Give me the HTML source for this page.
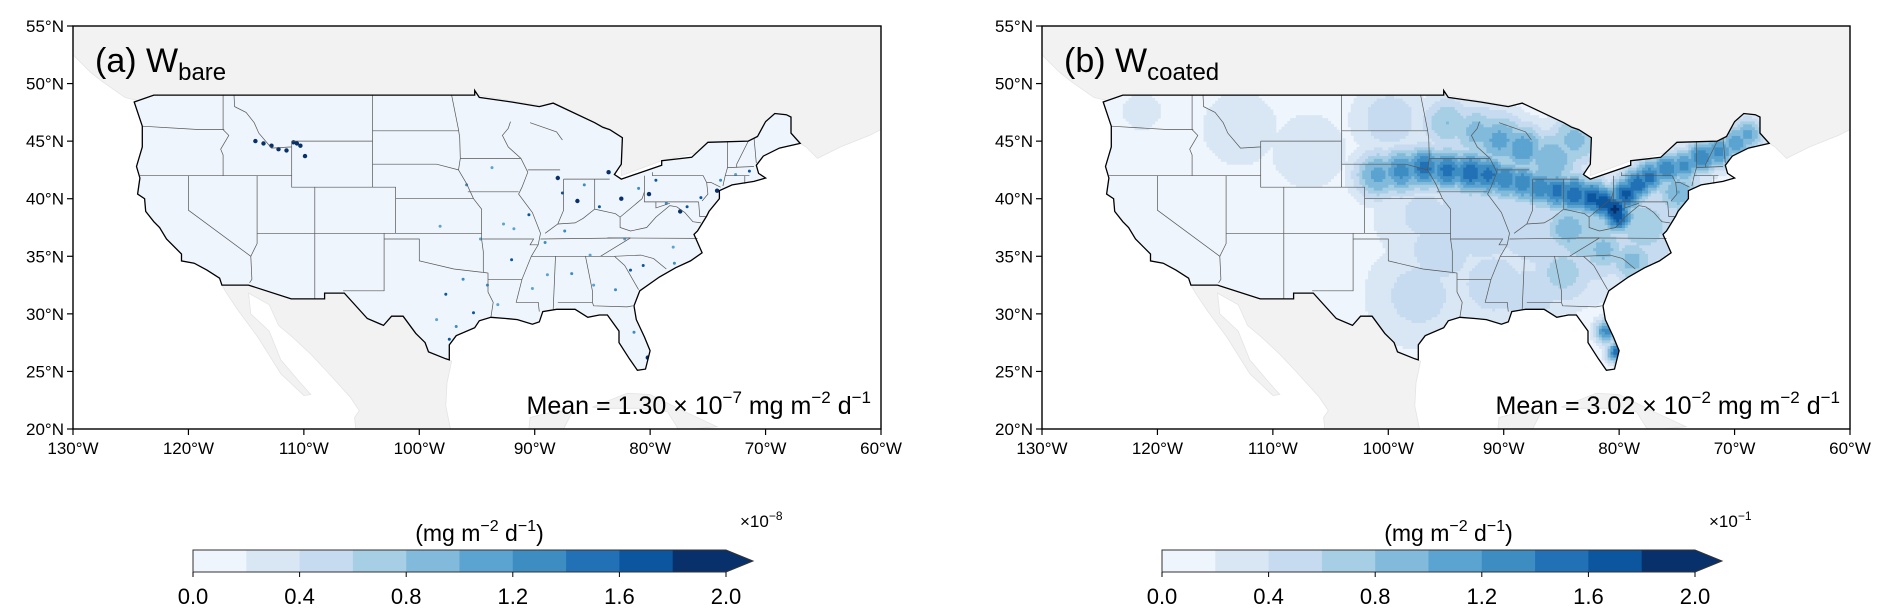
<!DOCTYPE html>
<html>
<head>
<meta charset="utf-8">
<style>
html,body{margin:0;padding:0;background:#fff;}
svg{display:block;font-family:"Liberation Sans",Arial,sans-serif;}
</style>
</head>
<body>
<svg id="fig" width="1892" height="610" viewBox="0 0 1892 610" xmlns="http://www.w3.org/2000/svg"></svg>
<script>
// ---------------- data ----------------
const lonTicks = [-130,-120,-110,-100,-90,-80,-70,-60];
const lonTickLabels = ["130°W","120°W","110°W","100°W","90°W","80°W","70°W","60°W"];
const latTicks = [20,25,30,35,40,45,50,55];
const latTickLabels = ["20°N","25°N","30°N","35°N","40°N","45°N","50°N","55°N"];
const cbarTicks = [0,0.4,0.8,1.2,1.6,2.0];
const cbarTickLabels = ["0.0","0.4","0.8","1.2","1.6","2.0"];
const levelColors = ["#eef5fc","#d9e7f5","#c6dbef","#a6cee4","#82badb","#5ba3d0","#3d8dc3","#2270b5","#0c56a0","#08306b"];
// panel (b) hotspot field: lon, lat, value (x10^-1), spread (deg)
const hotLon = [-101,-99,-97,-95,-93,-91.5,-90,-88.5,-87,-85.5,-84,-82.5,-81.5,-80.5,-80.2,-79.5,-78.5,-77.5,-76,-74.5,-73,-71.5,-70,-69,-88.5,-90.5,-92.5,-95,-84.5,-81.5,-79,-85,-88,-91,-81.2,-80.3,-95.5,-97.5,-87,-83,-78,-92,-97,-107,-113,-121.5,-100,-86,-84,-75];
const hotLat = [42,42.3,42.6,42.4,42.2,42,41.6,41.3,40.9,40.6,40.3,40,39.6,39,38.3,40.3,41.2,41.8,42.5,42.8,43.5,44,44.8,45.5,44.3,45,45.7,46.5,37.3,35.5,34.5,33.5,31.5,32.5,28.4,26.6,35.5,31.5,38,37,37.5,38.5,38.5,44,46,47.5,46.8,43.3,45,40.5];
const hotVal = [1.1,1.3,1.5,1.5,1.6,1.5,1.4,1.4,1.4,1.5,1.6,1.7,1.8,1.9,1.7,1.7,1.6,1.5,1.4,1.3,1.4,1.3,1.2,1.1,1.2,1.1,0.9,0.8,1.0,0.9,0.9,0.7,0.6,0.6,1.3,1.5,0.5,0.5,0.6,0.7,0.7,0.6,0.45,0.35,0.35,0.35,0.55,1.0,0.9,1.0];
const hotSpread = [1.6,1.5,1.4,1.4,1.4,1.4,1.3,1.3,1.3,1.3,1.3,1.2,1.1,1.0,1.0,1.1,1.1,1.1,1.1,1.1,1.1,1.1,1.1,1.1,1.6,1.8,1.8,1.8,1.6,1.6,1.5,2.3,2.3,2.5,0.8,0.7,3.5,3.5,4,4,3,4,3.5,3,3,1.5,2.5,2.0,1.8,1.5];
// panel (a) isolated high-value cells: lon, lat, value (x10^-8)
const dotLon = [-110.6,-110.3,-110.9,-112.2,-112.8,-113.5,-114.2,-111.5,-109.9,-95.3,-97.4,-96.8,-98.5,-97.7,-94.1,-93.2,-92,-90.2,-88,-87.6,-86.3,-85.7,-84.4,-83.6,-82.5,-81,-80.1,-79.5,-78.6,-77.4,-76.8,-75.6,-74.2,-73.9,-72.6,-71.4,-90.5,-91.8,-89.1,-88.9,-86.8,-84.9,-83,-81.7,-80.6,-80.2,-81.4,-97.1,-96.2,-94.7,-92.7,-95.9,-93.7,-98.2,-87.4,-85.2,-82.2,-78,-77.9];
const dotLat = [44.8,44.6,44.9,44.3,44.6,44.8,45,44.2,43.7,30.1,27.8,28.9,29.5,31.7,32.5,30.8,34.7,32.2,41.8,40.5,39.8,41.2,39.3,42.3,40,40.9,40.4,41.6,39.6,38.9,39.3,40.1,40.7,41.6,42.1,42.4,38.6,37.4,36.2,33.4,33.5,32.5,32.1,33.8,34.2,26.2,28.4,26.4,33,36.5,37.8,41.2,42.7,37.6,37.2,35.1,36.5,35.8,34.4];
const dotVal = [2,2,2,2,2,1.8,1.8,2,1.8,1.6,1.6,1.4,1.2,1.6,1.4,1.2,1.6,1.2,2,1.6,1.8,1.4,1.6,2,1.8,1.4,2,1.6,1.4,2,1.6,1.6,2,1.4,1.2,1.6,1.6,1.2,1.4,1.2,1.4,1.2,1.4,1.6,1.6,1.8,1.4,1.4,1.4,1.2,1.2,1.4,1.2,1.2,1.4,1.2,1.2,1.2,1.4];

// ---------------- geometry ----------------
const US = [[-124.7,48.4],[-123,49],[-95.2,49],[-95.2,49.4],[-94.8,48.8],[-92,48.4],[-89.6,48],[-88.4,48.3],[-84.8,46.6],[-84.1,46.2],[-83.5,46],[-82.4,45.3],[-82.5,43],[-83.1,42.1],[-82.5,41.7],[-79,42.9],[-79,43.3],[-76.4,43.6],[-75,44.9],[-71.5,45],[-70.7,45.4],[-70,46.7],[-69.2,47.4],[-68.2,47.3],[-67.8,47.1],[-67.8,45.7],[-67,44.8],[-68.8,44.4],[-70.2,43.7],[-70.8,42.9],[-70.6,42.2],[-70,41.8],[-71,41.5],[-72.9,41.2],[-74,40.7],[-74,40],[-74.9,38.9],[-75.1,38.5],[-75.9,37.2],[-76.2,36.9],[-75.5,35.3],[-76.5,34.6],[-77.8,34],[-79.2,33.2],[-80.9,32],[-81.4,30.7],[-81.2,29.5],[-80.5,28],[-80,26.8],[-80.4,25.2],[-81.1,25.1],[-81.8,26.1],[-82.7,27.5],[-82.7,28.5],[-83.7,29.9],[-84.4,29.9],[-85.4,29.7],[-86.5,30.4],[-88.1,30.4],[-89.3,30.2],[-89.6,29.3],[-90.2,29.1],[-91.5,29.5],[-92.5,29.6],[-93.8,29.7],[-94.8,29.4],[-95.2,28.8],[-96.8,28.1],[-97.4,27.3],[-97.4,26],[-97.7,26.1],[-99.2,26.7],[-99.5,27.5],[-100.3,28.3],[-101.4,29.8],[-102.4,29.8],[-103.1,29],[-104.5,29.6],[-106.5,31.8],[-108.2,31.8],[-108.2,31.3],[-111.1,31.3],[-114.8,32.5],[-117.1,32.5],[-117.3,33.1],[-118.4,33.8],[-119.5,34.4],[-120.6,34.6],[-120.6,35.2],[-121.9,36.5],[-122.5,37.5],[-123,38],[-123.7,38.9],[-123.8,40],[-124.4,40.4],[-124.2,41.8],[-124.5,42.8],[-124,44.5],[-124,46.3],[-124.7,48.4]];
const CANADA = [[-131,56],[-60,56],[-60,46],[-61,45.5],[-63.5,44.5],[-65.5,43.5],[-66.5,44.5],[-67,44.8],[-67.8,45.7],[-71,45],[-76,44],[-79,43.3],[-82.5,42],[-82.5,45],[-84,46.3],[-89,48],[-95,49],[-123,49],[-123.5,48.3],[-125.5,48.8],[-127.5,50.2],[-128.5,51],[-130,52.5],[-131,53]];
const MEXICO = [[-117.1,32.5],[-114.8,32.5],[-111.1,31.3],[-108.2,31.3],[-108.2,31.8],[-106.5,31.8],[-104.5,29.6],[-103.1,29],[-102.4,29.8],[-101.4,29.8],[-100.3,28.3],[-99.5,27.5],[-99.2,26.7],[-97.7,26.1],[-97.2,25.9],[-97.6,24],[-97.7,22],[-97.3,20],[-105.5,20],[-105.6,21],[-105.2,21.6],[-106,22.8],[-108,25],[-109.4,26.5],[-111,28],[-112.2,29],[-113,30.8],[-114.8,31.8],[-114.6,30],[-113,28.5],[-112,26],[-110.3,24],[-109.4,23],[-110,22.9],[-112,24.8],[-114,28],[-115.7,30.3],[-116.7,31.8]];
const YUCATAN = [[-90.5,20],[-90.4,21],[-88,21.6],[-86.8,21.4],[-87.5,20],[-90.5,20]];
const CUBA = [[-85,21.9],[-82,23.1],[-80,23],[-77,21.5],[-74.2,20.2],[-77.5,19.9],[-78.5,21.5],[-81,21.8],[-84,21.8]];
const STATES = [
[[-124,46.3],[-119,46],[-116.9,46]],
[[-117,49],[-117,46],[-116.5,45.5],[-117.2,44.3],[-117,43.8],[-117,42]],
[[-124.2,42],[-111.05,42]],
[[-111.05,44.5],[-111.05,41],[-109.05,41],[-109.05,31.3]],
[[-120,42],[-120,39],[-114.6,35]],
[[-114.05,42],[-114.05,36.1],[-114.6,35],[-114.5,33],[-114.7,32.7]],
[[-114.05,37],[-102.05,37]],
[[-109.05,41],[-102.05,41],[-102.05,37]],
[[-111.05,45],[-104.05,45],[-104.05,41]],
[[-116.05,49],[-116,48],[-115,47.5],[-114.3,46.6],[-113.9,45.7],[-112.8,44.4],[-111.05,44.5],[-111.05,45]],
[[-104.05,49],[-104.05,45]],
[[-104.05,45.9],[-96.6,45.9]],
[[-104.05,43],[-98.5,43],[-96.6,42.5]],
[[-102.05,40],[-95.3,40]],
[[-102.05,37],[-94.6,37]],
[[-103.05,37],[-103.05,32],[-106.6,32]],
[[-103.05,36.5],[-100,36.5],[-100,34.6],[-97,33.9],[-94.5,33.6]],
[[-94.6,36.5],[-94.45,35.4],[-94.45,33.6],[-94.05,33.55],[-94.05,31.9],[-93.6,31],[-93.8,29.7]],
[[-94.05,33],[-91.1,33]],
[[-97.2,49],[-96.6,46],[-96.5,45.3],[-96.45,43.5],[-96.6,42.5],[-95.9,41.3],[-95.3,40],[-94.6,39.1],[-94.6,36.5],[-90.1,36.5],[-90.4,36],[-89.7,36]],
[[-96.45,43.5],[-91.2,43.5]],
[[-95.8,40.6],[-91.4,40.6]],
[[-92.1,46.7],[-92.3,46.1],[-92.8,45.5],[-92.3,44.5],[-91.2,43.5],[-90.6,42.3],[-91.1,41],[-91.4,40.4],[-90.2,38.8],[-89.5,37],[-89.7,36],[-90.3,35],[-91.1,33],[-91.6,31],[-89.7,31],[-89.6,30.2]],
[[-90.6,42.5],[-87.8,42.5]],
[[-90.4,46.6],[-88.1,45.8],[-87.6,45.1]],
[[-87.5,41.7],[-87.5,39],[-88,37.8]],
[[-87.5,41.7],[-83.5,41.7]],
[[-84.8,41.7],[-84.8,39.1]],
[[-89.1,37],[-88,37.8],[-86.5,37.9],[-85.8,38.3],[-84.8,39.1],[-83,38.7],[-82.6,38.4],[-80.7,40],[-80.5,40.6],[-80.5,42]],
[[-79.8,42.3],[-79.8,42],[-75.4,42],[-75.1,41.4],[-74.7,41.4],[-73.9,41]],
[[-80.5,40.6],[-80.5,39.72],[-75.8,39.72]],
[[-75.1,41.4],[-75,40.4],[-75.5,39.8]],
[[-82.6,38.4],[-82.6,37.5],[-81.7,37.2],[-80.3,37.5],[-79.5,38.4],[-78.3,39.4],[-77.7,39.3]],
[[-79.5,39.72],[-79.5,39.2],[-78.3,39.6]],
[[-89.5,36.5],[-81.7,36.6]],
[[-83.7,36.6],[-75.9,36.55]],
[[-81.7,36.6],[-84.3,35]],
[[-90.3,35],[-83.1,35]],
[[-88.2,35],[-88.4,30.4]],
[[-85.6,35],[-85,32],[-85,31]],
[[-88,31],[-85,31],[-84.9,30.7],[-82,30.6],[-81.5,30.7]],
[[-83.1,35],[-82.2,34.2],[-81,32.1]],
[[-83.1,35],[-80.8,35.1],[-79.7,34.8],[-78.6,33.9]],
[[-73.3,45],[-73.3,42.7],[-73.5,42],[-73.7,41.1]],
[[-71.5,45],[-72.5,43],[-72.5,42.7]],
[[-73.3,42.7],[-71,42.8]],
[[-73.5,42],[-71.4,42]],
[[-71.8,42],[-71.8,41.3]],
[[-71,45.3],[-70.8,43.1]],
[[-75.8,39.72],[-75.7,38.45],[-75.1,38.45]],
[[-77.7,39.3],[-77,38.8],[-76.3,38],[-75.6,37.9]]
];

const svg = document.getElementById('fig');
const NS = 'http://www.w3.org/2000/svg';
function mk(tag, attrs, parent){const e=document.createElementNS(NS,tag);for(const k in attrs)e.setAttribute(k,attrs[k]);(parent||svg).appendChild(e);return e;}

const Y0 = 26, Y1 = 429, W = 808;
function makeAxes(x0){
  const sx = lon => x0 + (lon + 130) / 70 * W;
  const sy = lat => Y1 - (lat - 20) / 35 * (Y1 - Y0);
  return {sx, sy};
}
function pathOf(pts, ax, close){return pts.map((p,i)=>(i?'L':'M')+ax.sx(p[0]).toFixed(1)+','+ax.sy(p[1]).toFixed(1)).join('')+(close?'Z':'');}
function levelOf(v){let i=Math.floor(v/0.2);if(i<0)i=0;if(i>9)i=9;return i;}

const defs = mk('defs',{});

function drawPanel(idx, x0, titleMain, titleSub, meanText, exp){
  const ax = makeAxes(x0);
  const g = mk('g',{});
  
  
  const cp = mk('clipPath',{id:'frame'+idx},defs);
  mk('rect',{x:x0,y:Y0,width:W,height:Y1-Y0},cp);
  const cu = mk('clipPath',{id:'us'+idx},defs);
  mk('path',{d:pathOf(US,ax,true)},cu);
  const inner = mk('g',{'clip-path':'url(#frame'+idx+')'},g);
  mk('rect',{x:x0,y:Y0,width:W,height:Y1-Y0,fill:'#ffffff'},inner);
  [CANADA,MEXICO,YUCATAN,CUBA].forEach((poly,k)=>{
    const p = mk('path',{d:pathOf(poly,ax,true),fill:'#f2f2f2',stroke:'#e4e4e4','stroke-width':0.8},inner);
    
    
  });
  const us = mk('path',{d:pathOf(US,ax,true),fill:levelColors[0]},inner);
  
  
  const field = mk('g',{'clip-path':'url(#us'+idx+')'},inner);
  
  
  if(idx==='b'){
    const step = 0.25;
    const cw = step / 70 * W + 0.5, ch = step / 35 * (Y1-Y0) + 0.5;
    for(let lon=-125; lon<-66.5; lon+=step){
      for(let lat=24.5; lat<49.5; lat+=step){
        let v=0;
        for(let k=0;k<hotLon.length;k++){
          const d2=((lon-hotLon[k])**2+(lat-hotLat[k])**2)/(hotSpread[k]**2);
          if(d2<12) v=Math.max(v, hotVal[k]*Math.exp(-d2/2));
        }
        const L=levelOf(v);
        if(L>0){
          mk('rect',{x:ax.sx(lon).toFixed(1),y:ax.sy(lat+step).toFixed(1),width:cw.toFixed(1),height:ch.toFixed(1),fill:levelColors[L]},field);
        }
      }
    }
  } else {
    for(let k=0;k<dotLon.length;k++){
      const c = mk('circle',{cx:ax.sx(dotLon[k]).toFixed(1),cy:ax.sy(dotLat[k]).toFixed(1),r:(dotVal[k]>=1.8?2.2:1.5),fill:levelColors[levelOf(dotVal[k])]},field);
      
      
    }
  }
  const st = mk('g',{fill:'none',stroke:'#555','stroke-width':0.7},inner);
  
  
  STATES.forEach(s=>mk('path',{d:pathOf(s,ax,false)},st));
  const ol = mk('path',{d:pathOf(US,ax,true),fill:'none',stroke:'#000','stroke-width':1.3},inner);
  
  
  const fr = mk('rect',{x:x0,y:Y0,width:W,height:Y1-Y0,fill:'none',stroke:'#000','stroke-width':1.4},g);
  
  
  lonTicks.forEach((t,i)=>{
    const x=ax.sx(t);
    mk('line',{x1:x,x2:x,y1:Y1,y2:Y1+6,stroke:'#000','stroke-width':1.2},g);
    const tx = mk('text',{x:x,y:Y1+25,'text-anchor':'middle','font-size':17,fill:'#000'},g);
    tx.textContent = lonTickLabels[i];
    
    
  });
  latTicks.forEach((t,i)=>{
    const y=ax.sy(t);
    mk('line',{x1:x0-6,x2:x0,y1:y,y2:y,stroke:'#000','stroke-width':1.2},g);
    const tx = mk('text',{x:x0-9,y:y+6,'text-anchor':'end','font-size':17,fill:'#000'},g);
    tx.textContent = latTickLabels[i];
    
    
  });
  const tt = mk('text',{x:x0+22,y:72,'font-size':34,fill:'#000'},g);
  
  
  tt.innerHTML = titleMain + '<tspan font-size="24" dy="8">'+titleSub+'</tspan>';
  const mt = mk('text',{x:x0+W-10,y:414,'text-anchor':'end','font-size':25,fill:'#000'},g);
  
  
  mt.innerHTML = meanText + ' × 10<tspan font-size="17" dy="-11">'+exp+'</tspan><tspan dy="11"> mg m</tspan><tspan font-size="17" dy="-11">−2</tspan><tspan dy="11"> d</tspan><tspan font-size="17" dy="-11">−1</tspan>';
}

function drawColorbar(idx, x0, mult){
  const g = mk('g',{});
  
  
  const cx0 = x0, cx1 = x0 + 533, cy0 = 550, cy1 = 572;
  const sc = v => cx0 + v / 2.0 * (cx1 - cx0);
  levelColors.forEach((c,i)=>{
    mk('rect',{x:sc(i*0.2),y:cy0,width:sc((i+1)*0.2)-sc(i*0.2)+0.5,height:cy1-cy0,fill:c},g);
  });
  mk('path',{d:`M${cx1},${cy0}L${cx1+27},${(cy0+cy1)/2}L${cx1},${cy1}Z`,fill:'#08306b'},g);
  mk('path',{d:`M${cx1},${cy0}L${cx0},${cy0}L${cx0},${cy1}L${cx1},${cy1}L${cx1+27},${(cy0+cy1)/2}Z`,fill:'none',stroke:'#333','stroke-width':1},g);
  cbarTicks.forEach((t,i)=>{
    const x=sc(t);
    mk('line',{x1:x,x2:x,y1:cy1,y2:cy1+5,stroke:'#000','stroke-width':1},g);
    const tx = mk('text',{x:x,y:cy1+32,'text-anchor':'middle','font-size':22,fill:'#000'},g);
    tx.textContent = cbarTickLabels[i];
    
    
  });
  const lb = mk('text',{x:(cx0+cx1)/2+20,y:541,'text-anchor':'middle','font-size':23,fill:'#000'},g);
  
  
  lb.innerHTML = '(mg m<tspan font-size="16" dy="-10">−2</tspan><tspan dy="10"> d</tspan><tspan font-size="16" dy="-10">−1</tspan><tspan dy="10">)</tspan>';
  const ml = mk('text',{x:cx1+14,y:527,'font-size':17,fill:'#000'},g);
  
  
  ml.innerHTML = '×10<tspan font-size="12" dy="-7">'+mult+'</tspan>';
}

drawPanel('a', 73, '(a) W', 'bare', 'Mean = 1.30', '−7');
drawPanel('b', 1042, '(b) W', 'coated', 'Mean = 3.02', '−2');
drawColorbar('a', 193, '−8');
drawColorbar('b', 1162, '−1');
</script>
</body>
</html>
